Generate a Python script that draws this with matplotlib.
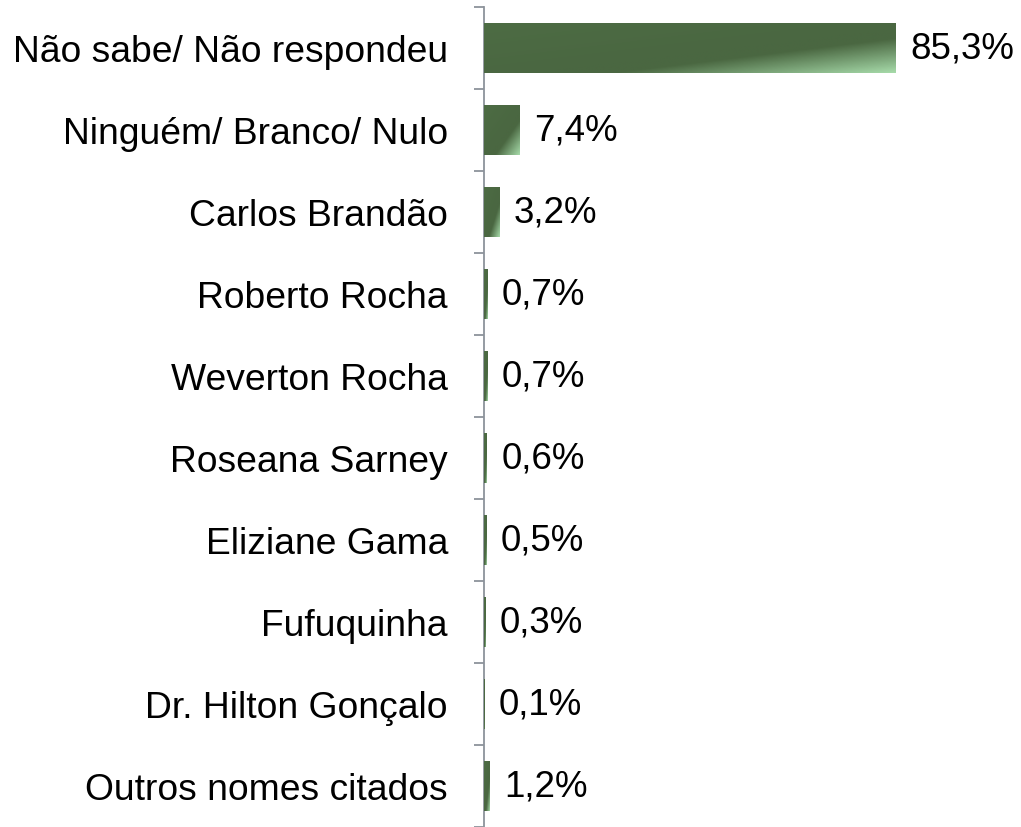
import numpy as np
import matplotlib
matplotlib.use("Agg")
import matplotlib.pyplot as plt
from matplotlib.colors import LinearSegmentedColormap

categories = ["Não sabe/ Não respondeu", "Ninguém/ Branco/ Nulo", "Carlos Brandão",
              "Roberto Rocha", "Weverton Rocha", "Roseana Sarney", "Eliziane Gama",
              "Fufuquinha", "Dr. Hilton Gonçalo", "Outros nomes citados"]
values = [85.3, 7.4, 3.2, 0.7, 0.7, 0.6, 0.5, 0.3, 0.1, 1.2]
value_labels = ["85,3%", "7,4%", "3,2%", "0,7%", "0,7%", "0,6%", "0,5%", "0,3%", "0,1%", "1,2%"]

plt.rcParams['font.family'] = ['Liberation Sans', 'DejaVu Sans']

W, H = 1021, 828
fig = plt.figure(figsize=(W / 100, H / 100), dpi=100)
ax = fig.add_axes([484 / W, 0.0, 1 - 484 / W, 1 - 8 / H])

n = len(categories)
y = np.arange(n)
bars = ax.barh(y, values, height=0.61, color="#4B6A42", edgecolor="none", zorder=2)
ax.set_xlim(0, 111.2)
ax.set_ylim(n - 0.5, -0.5)

cmap = LinearSegmentedColormap.from_list(
    "g", [(0.0, "#4D6C44"), (0.55, "#4A6741"), (0.66, "#4A6741"), (1.0, "#A6DAA9")])
uu, vv = np.meshgrid(np.linspace(0, 1, 200), np.linspace(0, 1, 60))
grad = 0.5 * uu + 0.5 * vv
for b in bars:
    x0, y0 = b.get_x(), b.get_y()
    w, h = b.get_width(), b.get_height()
    im = ax.imshow(grad, cmap=cmap, vmin=0, vmax=1, extent=(x0, x0 + w, y0 + h, y0),
                   aspect="auto", origin="upper", zorder=3, interpolation="bilinear")
    im.set_clip_path(b)
ax.set_xlim(0, 111.2)
ax.set_ylim(n - 0.5, -0.5)

for yi, v, lab in zip(y, values, value_labels):
    ax.annotate(lab, xy=(v, yi), xytext=(10.5, 0), textcoords="offset points",
                ha="left", va="center", fontsize=26.5, color="black")

ax.set_yticks(np.arange(-0.5, n, 1.0), minor=False)
ax.set_yticklabels([])
ax.set_yticks(y, minor=True)
ax.set_yticklabels(categories, minor=True, fontsize=26.8)
ax.tick_params(axis="y", which="major", length=7.5, width=1.3, color="#8C939B", direction="out")
ax.tick_params(axis="y", which="minor", length=0, pad=26)
ax.set_xticks([])
for s in ["top", "right", "bottom"]:
    ax.spines[s].set_visible(False)
ax.spines["left"].set_color("#8C939B")
ax.spines["left"].set_linewidth(1.3)
ax.patch.set_alpha(0)

fig.savefig("out.png", dpi=100)
